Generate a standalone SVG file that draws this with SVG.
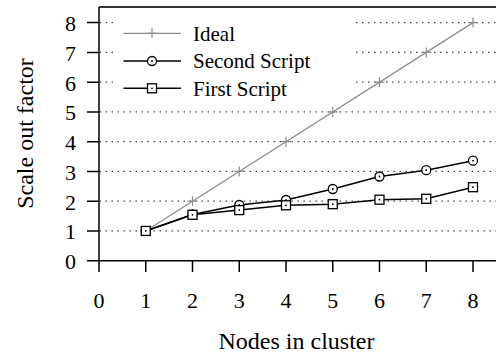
<svg xmlns="http://www.w3.org/2000/svg" width="496" height="354" viewBox="0 0 496 354">
<style>
text{font-family:"Liberation Serif","Times New Roman",serif;fill:#000}
.tl{font-size:22px}
.lg{font-size:21px}
.ti{font-size:24px}
.ax{stroke:#000;stroke-width:1.5;fill:none}
.grid{stroke:#444;stroke-width:1.2;stroke-dasharray:1.5 4.5;fill:none}
.ideal{stroke:#8c8c8c;stroke-width:1.2;fill:none}
.ser{stroke:#000;stroke-width:1.5;fill:none;stroke-linejoin:round}
.mk{stroke:#000;stroke-width:1.3;fill:#fff}
.mp{stroke:#8c8c8c;stroke-width:1.2;fill:none}
</style>
<defs>
<g id="pl"><path class="mp" d="M-5,0h10M0,-5v10"/></g>
<g id="ci"><circle class="mk" r="4.5"/><circle r="0.9" fill="#000"/></g>
<g id="sq"><rect class="mk" x="-4.5" y="-4.5" width="9" height="9"/><circle r="0.9" fill="#000"/></g>
</defs>
<rect width="496" height="354" fill="#fff"/>
<g id="grid">
<path class="grid" d="M99.5,230.94H496M99.5,201.18H496M99.5,171.42H496M99.5,141.66H496M99.5,111.9H496"/>
<path class="grid" d="M99.5,82.14H114M356,82.14H496M99.5,52.38H114M356,52.38H496M99.5,22.62H114M356,22.62H496"/>
</g>
<g id="axes">
<path d="M99,7H496" stroke="#333" stroke-width="2" fill="none"/>
<path class="ax" d="M99,7V272M87,260.7H496"/>
<path class="ax" d="M87,230.94H99M87,201.18H99M87,171.42H99M87,141.66H99M87,111.9H99M87,82.14H99M87,52.38H99M87,22.62H99"/>
<path class="ax" d="M145.75,260.7V272M192.5,260.7V272M239.25,260.7V272M286,260.7V272M332.75,260.7V272M379.5,260.7V272M426.25,260.7V272M473,260.7V272"/>
</g>
<g id="ylabels" class="tl" text-anchor="end">
<text x="76" y="269">0</text>
<text x="76" y="239.4">1</text>
<text x="76" y="209.7">2</text>
<text x="76" y="179.9">3</text>
<text x="76" y="150.2">4</text>
<text x="76" y="120.4">5</text>
<text x="76" y="90.6">6</text>
<text x="76" y="60.9">7</text>
<text x="76" y="31.1">8</text>
</g>
<g id="xlabels" class="tl" text-anchor="middle">
<text x="99" y="308">0</text>
<text x="145.75" y="308">1</text>
<text x="192.5" y="308">2</text>
<text x="239.25" y="308">3</text>
<text x="286" y="308">4</text>
<text x="332.75" y="308">5</text>
<text x="379.5" y="308">6</text>
<text x="426.25" y="308">7</text>
<text x="473" y="308">8</text>
</g>
<g id="titles" class="ti">
<text x="296.5" y="349" text-anchor="middle">Nodes in cluster</text>
<text transform="translate(32.5,133.5) rotate(-90)" text-anchor="middle">Scale out factor</text>
</g>
<g id="ideal">
<path class="ideal" d="M145.75,230.94L473,22.62"/>
<use href="#pl" x="145.75" y="230.94"/><use href="#pl" x="192.5" y="201.18"/><use href="#pl" x="239.25" y="171.42"/><use href="#pl" x="286" y="141.66"/><use href="#pl" x="332.75" y="111.9"/><use href="#pl" x="379.5" y="82.14"/><use href="#pl" x="426.25" y="52.38"/><use href="#pl" x="473" y="22.62"/>
</g>
<g id="second">
<path class="ser" d="M145.75,230.94L192.5,214.4L239.25,205L286,200L332.75,189L379.5,176.5L426.25,170.2L473,160.7"/>
<use href="#ci" x="145.75" y="230.94"/><use href="#ci" x="192.5" y="214.4"/><use href="#ci" x="239.25" y="205"/><use href="#ci" x="286" y="200"/><use href="#ci" x="332.75" y="189"/><use href="#ci" x="379.5" y="176.5"/><use href="#ci" x="426.25" y="170.2"/><use href="#ci" x="473" y="160.7"/>
</g>
<g id="first">
<path class="ser" d="M145.75,230.94L192.5,214.8L239.25,210.1L286,205.3L332.75,204.2L379.5,199.7L426.25,198.8L473,187.2"/>
<use href="#sq" x="145.75" y="230.94"/><use href="#sq" x="192.5" y="214.8"/><use href="#sq" x="239.25" y="210.1"/><use href="#sq" x="286" y="205.3"/><use href="#sq" x="332.75" y="204.2"/><use href="#sq" x="379.5" y="199.7"/><use href="#sq" x="426.25" y="198.8"/><use href="#sq" x="473" y="187.2"/>
</g>
<g id="legend" class="lg">
<path class="ideal" d="M123.5,33.3H181"/><use href="#pl" x="152" y="33.3"/>
<text x="193" y="40.5">Ideal</text>
<path class="ser" d="M123.5,61H181"/><use href="#ci" x="152" y="61"/>
<text x="193" y="68.2">Second Script</text>
<path class="ser" d="M123.5,88.3H181"/><use href="#sq" x="152" y="88.3"/>
<text x="193" y="95.5">First Script</text>
</g>
</svg>
